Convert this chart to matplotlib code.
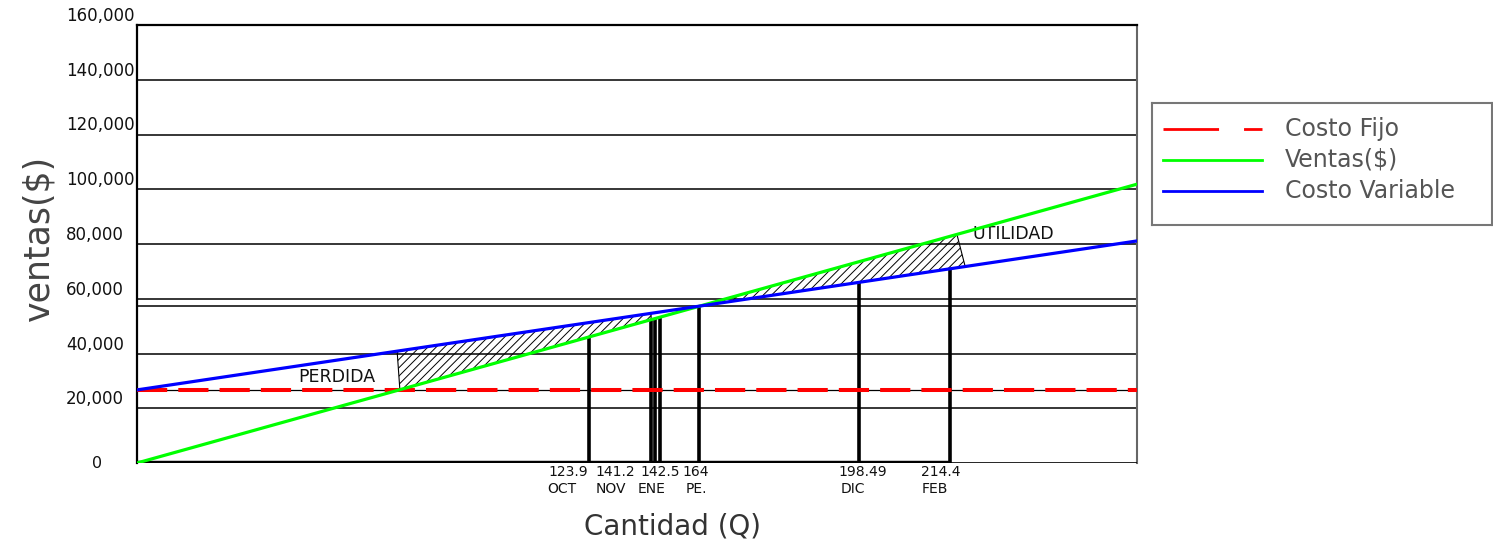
import matplotlib.pyplot as plt
from matplotlib.patches import Polygon
from matplotlib.lines import Line2D

# --- data ---
q_range = [0, 291]
ventas = [0, 101850]
costo_variable = [26700, 81120]
costo_fijo = [26700, 26700]
punto_equilibrio = 57300

yticks = [0, 20000, 40000, 60000, 80000, 100000, 120000, 140000, 160000]
ytick_labels = ["0", "20,000", "40,000", "60,000", "80,000", "100,000",
                "120,000", "140,000", "160,000"]

bar_q = [131.5, 149.6, 150.7, 152.2, 163.5, 210.1, 236.6]
bar_h = [45700, 52400, 52800, 53300, 57300, 66000, 70900]
bar_num = ["123.9", "141.2", "142.5", "", "164", "198.49", "214.4"]
bar_mes = ["OCT", "NOV", "ENE", "", "PE.", "DIC", "FEB"]

perdida_q = [76.5, 75.7, 149.6, 149.6]
perdida_y = [26700, 40800, 54650, 52360]
utilidad_q = [163.8, 238.6, 241.0]
utilidad_y = [57300, 83500, 71770]

series_names = ["Costo Fijo", "Ventas($)", "Costo Variable"]

# label nudges in pixels (number row, month row)
num_dx = [-21, -36, 5, 0, -3, 4, -9]
mes_dx = [-27, -40, -3, 0, -2, -6, -15]

RED, GREEN, BLUE = "#ff0000", "#00ff00", "#0000ff"
plt.rcParams["font.family"] = "DejaVu Sans"
plt.rcParams["hatch.linewidth"] = 0.7

W, H = 1493, 546
fig = plt.figure(figsize=(W / 100, H / 100), dpi=100)
ax = fig.add_axes([137 / W, (H - 463) / H, 1000 / W, 438 / H])
ax.set_xlim(*q_range)
ax.set_ylim(0, 160000)

# grid
for v in yticks[1:]:
    ax.axhline(v, color="black", lw=1.1, zorder=1)
ax.axhline(punto_equilibrio, color="black", lw=1.1, zorder=1)
ax.axhline(costo_fijo[0], color="black", lw=0.9, zorder=1)

# hatched zones
ax.add_patch(Polygon(list(zip(perdida_q, perdida_y)), closed=True, facecolor="none",
                     edgecolor="black", hatch="////", lw=0.8, zorder=2))
ax.add_patch(Polygon(list(zip(utilidad_q, utilidad_y)), closed=True, facecolor="none",
                     edgecolor="black", hatch="////", lw=0.8, zorder=2))

# bars
ax.vlines(bar_q, 0, bar_h, color="black", lw=2.6, zorder=3)
ax.plot([0, bar_q[-1]], [0, 0], color="black", lw=3.2, zorder=4, solid_capstyle="butt")
ax.axhline(0, color="black", lw=1.2, zorder=3)

# lines
ax.plot(q_range, costo_fijo, color=RED, lw=2.9, ls=(0, (7.5, 2.75)), zorder=5)
ax.plot(q_range, ventas, color=GREEN, lw=2.3, zorder=5)
ax.plot(q_range, costo_variable, color=BLUE, lw=2.3, zorder=6)

for s in ["top", "left"]:
    ax.spines[s].set_color("black")
    ax.spines[s].set_linewidth(1.6)
ax.spines["bottom"].set_visible(False)
ax.spines["right"].set_color("#666666")
ax.spines["right"].set_linewidth(1.5)
ax.set_xticks([])
ax.set_yticks([])

# y tick labels
for v, lab in zip(yticks, ytick_labels):
    if v == 0:
        ax.text(-0.040, v, lab, transform=ax.get_yaxis_transform(), ha="center",
                va="center", fontsize=11.5, color="#111111")
    else:
        ax.text(-0.071, v, lab, transform=ax.get_yaxis_transform(), ha="left",
                va="bottom", fontsize=12, color="#111111", clip_on=False)

# bar labels
for q, n, m, dn, dm in zip(bar_q, bar_num, bar_mes, num_dx, mes_dx):
    if n:
        ax.annotate(n, (q, 0), xytext=(dn, -9), textcoords="offset pixels",
                    ha="center", va="center", fontsize=10, color="#111111")
    if m:
        ax.annotate(m, (q, 0), xytext=(dm, -26), textcoords="offset pixels",
                    ha="center", va="center", fontsize=10, color="#111111")

ax.annotate("PERDIDA", (perdida_q[0], costo_fijo[0]), xytext=(-102, 4),
            textcoords="offset pixels", ha="left", va="bottom", fontsize=12.5, color="#111111")
ax.annotate("UTILIDAD", (utilidad_q[1], 80000), xytext=(16, 1),
            textcoords="offset pixels", ha="left", va="bottom", fontsize=12.5, color="#111111")

fig.text(38 / W, 1 - 238 / H, "ventas($)", rotation=90, ha="center", va="center",
         fontsize=25, color="#444444")
fig.text(673 / W, 1 - 526 / H, "Cantidad (Q)", ha="center", va="center",
         fontsize=20, color="#333333")

# legend box
lax = fig.add_axes([1152 / W, 1 - 225 / H, 340 / W, 122 / H])
lax.set_xlim(0, 340)
lax.set_ylim(122, 0)
lax.set_xticks([])
lax.set_yticks([])
for s in lax.spines.values():
    s.set_color("#777777")
    s.set_linewidth(1.5)
styles = [dict(color=RED, ls=(0, (20, 9))), dict(color=GREEN, ls="-"), dict(color=BLUE, ls="-")]
for i, (name, st) in enumerate(zip(series_names, styles)):
    yy = 26 + i * 31
    lax.add_line(Line2D([11, 110], [yy, yy], lw=2.0, **st))
    lax.text(133, yy, name, ha="left", va="center", fontsize=17, color="#555555")

fig.savefig("out.png", dpi=100)
